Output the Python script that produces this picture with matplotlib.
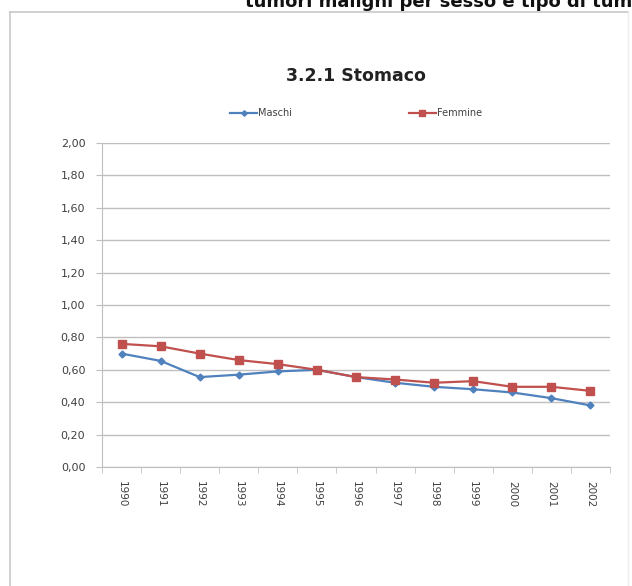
import matplotlib.pyplot as plt
from matplotlib.lines import Line2D
import numpy as np

# dati
anni = ["1990", "1991", "1992", "1993", "1994", "1995", "1996",
        "1997", "1998", "1999", "2000", "2001", "2002"]
maschi = [0.70, 0.655, 0.555, 0.57, 0.59, 0.60, 0.555,
          0.52, 0.495, 0.48, 0.46, 0.425, 0.38]
femmine = [0.76, 0.745, 0.70, 0.66, 0.635, 0.60, 0.555,
           0.54, 0.52, 0.53, 0.495, 0.495, 0.47]
y_ticks = [0.0, 0.2, 0.4, 0.6, 0.8, 1.0, 1.2, 1.4, 1.6, 1.8, 2.0]

blu = "#4F81BD"
rosso = "#C0504D"
grigio_testo = "#404040"

W, H = 632, 586
fig = plt.figure(figsize=(W / 100, H / 100), dpi=100)
fig.patch.set_facecolor("white")

# titolo della pagina tagliato in alto
fig.text(245 / W, 1 - 7 / H, "tumori maligni per sesso e tipo di tumore",
         fontsize=13, fontweight="bold", color="#111111",
         ha="left", va="baseline")

# cornice del grafico
fig.add_artist(Line2D([10 / W, 10 / W], [0, 1 - 12 / H], transform=fig.transFigure,
                      color="#c8c8c8", lw=1.2))
fig.add_artist(Line2D([10 / W, 628 / W], [1 - 12 / H, 1 - 12 / H],
                      transform=fig.transFigure, color="#c8c8c8", lw=1.2))
fig.add_artist(Line2D([628 / W, 628 / W], [0, 1 - 12 / H], transform=fig.transFigure,
                      color="#eeeeee", lw=1.0))

ax = fig.add_axes([102 / W, 1 - 467 / H, (610 - 102) / W, (467 - 143) / H])
x = np.arange(len(anni))

ax.plot(x, maschi, color=blu, lw=1.6, marker="D", markersize=3.5,
        label="Maschi", zorder=3)
ax.plot(x, femmine, color=rosso, lw=1.6, marker="s", markersize=6,
        label="Femmine", zorder=3)

ax.set_xlim(-0.5, len(anni) - 0.5)
ax.set_ylim(0, 2.0)
ax.set_yticks(y_ticks)
ax.set_yticklabels([("%.2f" % v).replace(".", ",") for v in y_ticks])
ax.yaxis.grid(True, color="#bfbfbf", lw=1.0)
ax.set_axisbelow(True)

ax.set_xticks(x)
ax.set_xticklabels(anni, rotation=270, va="top", ha="center")
ax.set_xticks(np.arange(-0.5, len(anni), 1.0), minor=True)
ax.tick_params(axis="x", which="major", length=0, pad=10,
               labelsize=7.5, labelcolor=grigio_testo)
ax.tick_params(axis="x", which="minor", length=4, color="#bfbfbf")
ax.tick_params(axis="y", length=4, color="#bfbfbf", pad=8,
               labelsize=8, labelcolor=grigio_testo)

for s in ["top", "right"]:
    ax.spines[s].set_visible(False)
for s in ["left", "bottom"]:
    ax.spines[s].set_color("#bfbfbf")

fig.text(356 / W, 1 - 76 / H, "3.2.1 Stomaco", fontsize=12.5,
         fontweight="bold", color="#222222", ha="center", va="center")

ax.legend(loc="center", bbox_to_anchor=(356 / W, 1 - 113 / H),
          bbox_transform=fig.transFigure, ncol=2, frameon=False,
          fontsize=7, handlelength=2.8, handletextpad=0.1,
          columnspacing=12, labelcolor=grigio_testo, markerscale=0.8)

fig.savefig("out.png", dpi=100)
